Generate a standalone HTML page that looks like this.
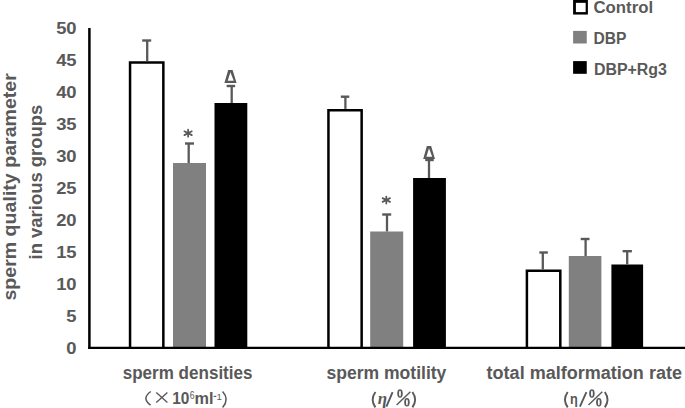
<!DOCTYPE html>
<html><head><meta charset="utf-8"><style>
html,body{margin:0;padding:0;background:#fff;width:685px;height:408px;overflow:hidden}
svg{display:block}
</style></head><body>
<svg width="685" height="408" viewBox="0 0 685 408">
<rect width="685" height="408" fill="#fff"/>
<path d="M130.05,348.00 V62.40 H163.35 V348.00" fill="#fff" stroke="#000" stroke-width="2.5" stroke-linejoin="miter"/>
<rect x="173.00" y="163.00" width="33.00" height="185.00" fill="#808080"/>
<rect x="214.50" y="103.00" width="32.80" height="245.00" fill="#000"/>
<path d="M328.45,348.00 V110.20 H361.65 V348.00" fill="#fff" stroke="#000" stroke-width="2.5" stroke-linejoin="miter"/>
<rect x="370.20" y="231.50" width="33.00" height="116.50" fill="#808080"/>
<rect x="413.10" y="178.00" width="32.80" height="170.00" fill="#000"/>
<path d="M526.90,348.00 V270.80 H560.30 V348.00" fill="#fff" stroke="#000" stroke-width="2.5" stroke-linejoin="miter"/>
<rect x="568.80" y="256.00" width="32.60" height="92.00" fill="#808080"/>
<rect x="611.40" y="264.50" width="31.70" height="83.50" fill="#000"/>
<line x1="147.20" y1="61.15" x2="147.20" y2="40.50" stroke="#595959" stroke-width="2.3"/>
<line x1="142.20" y1="40.50" x2="151.20" y2="40.50" stroke="#595959" stroke-width="2.4"/>
<line x1="188.70" y1="163.00" x2="188.70" y2="143.50" stroke="#595959" stroke-width="2.3"/>
<line x1="185.00" y1="143.50" x2="194.00" y2="143.50" stroke="#595959" stroke-width="2.4"/>
<line x1="231.70" y1="103.00" x2="231.70" y2="86.00" stroke="#595959" stroke-width="2.3"/>
<line x1="226.65" y1="86.00" x2="235.15" y2="86.00" stroke="#595959" stroke-width="2.4"/>
<line x1="345.40" y1="108.95" x2="345.40" y2="96.70" stroke="#595959" stroke-width="2.3"/>
<line x1="340.80" y1="96.70" x2="349.30" y2="96.70" stroke="#595959" stroke-width="2.4"/>
<line x1="387.00" y1="231.50" x2="387.00" y2="214.50" stroke="#595959" stroke-width="2.3"/>
<line x1="382.20" y1="214.50" x2="391.20" y2="214.50" stroke="#595959" stroke-width="2.4"/>
<line x1="429.00" y1="178.00" x2="429.00" y2="160.00" stroke="#595959" stroke-width="2.3"/>
<line x1="425.25" y1="160.00" x2="433.75" y2="160.00" stroke="#595959" stroke-width="2.4"/>
<line x1="542.80" y1="269.55" x2="542.80" y2="252.50" stroke="#595959" stroke-width="2.3"/>
<line x1="539.35" y1="252.50" x2="547.85" y2="252.50" stroke="#595959" stroke-width="2.4"/>
<line x1="585.60" y1="256.00" x2="585.60" y2="239.00" stroke="#595959" stroke-width="2.3"/>
<line x1="580.70" y1="239.00" x2="589.50" y2="239.00" stroke="#595959" stroke-width="2.4"/>
<line x1="627.20" y1="264.50" x2="627.20" y2="251.20" stroke="#595959" stroke-width="2.3"/>
<line x1="622.60" y1="251.20" x2="631.90" y2="251.20" stroke="#595959" stroke-width="2.4"/>
<line x1="89.4" y1="28" x2="89.4" y2="349.1" stroke="#000" stroke-width="2.5"/>
<line x1="88.2" y1="347.9" x2="685" y2="347.9" stroke="#000" stroke-width="2.3"/>
<g stroke="#595959" stroke-width="1.75" stroke-linecap="round"><line x1="188.10" y1="129.70" x2="188.10" y2="136.70"/><line x1="184.40" y1="131.30" x2="191.80" y2="135.10"/><line x1="184.40" y1="135.10" x2="191.80" y2="131.30"/></g>
<g stroke="#595959" stroke-width="1.75" stroke-linecap="round"><line x1="386.30" y1="196.50" x2="386.30" y2="203.50"/><line x1="382.60" y1="198.10" x2="390.00" y2="201.90"/><line x1="382.60" y1="201.90" x2="390.00" y2="198.10"/></g>
<path d="M228.20,70.00 L232.60,70.00 L236.60,83.00 L224.40,83.00 Z M230.40,72.20 L233.70,80.80 L227.70,80.80 Z" fill="#595959" fill-rule="evenodd"/>
<path d="M426.88,146.10 L431.13,146.10 L435.00,158.90 L423.20,158.90 Z M429.00,148.30 L432.20,156.70 L426.39,156.70 Z" fill="#595959" fill-rule="evenodd"/>
<g font-family="Liberation Sans" font-weight="bold" font-size="16" fill="#595959"><text transform="translate(76.6,353.80) scale(1.15,1)" text-anchor="end">0</text><text transform="translate(76.6,321.80) scale(1.15,1)" text-anchor="end">5</text><text transform="translate(76.6,289.80) scale(1.15,1)" text-anchor="end">10</text><text transform="translate(76.6,257.80) scale(1.15,1)" text-anchor="end">15</text><text transform="translate(76.6,225.80) scale(1.15,1)" text-anchor="end">20</text><text transform="translate(76.6,193.80) scale(1.15,1)" text-anchor="end">25</text><text transform="translate(76.6,161.80) scale(1.15,1)" text-anchor="end">30</text><text transform="translate(76.6,129.80) scale(1.15,1)" text-anchor="end">35</text><text transform="translate(76.6,97.80) scale(1.15,1)" text-anchor="end">40</text><text transform="translate(76.6,65.80) scale(1.15,1)" text-anchor="end">45</text><text transform="translate(76.6,33.80) scale(1.15,1)" text-anchor="end">50</text></g>
<rect x="573.1" y="-1" width="14.8" height="15.55" fill="#000"/><rect x="575.9" y="2.85" width="9.75" height="9.25" fill="#fff"/>
<rect x="573.1" y="30.9" width="13.65" height="12.6" fill="#808080"/>
<rect x="573.1" y="61.1" width="13.65" height="12.7" fill="#000"/>
<g font-family="Liberation Sans" font-weight="bold" font-size="16" fill="#595959"><text x="593.5" y="13.2" textLength="59.6" lengthAdjust="spacingAndGlyphs">Control</text><text x="593.5" y="44.2" textLength="32.9" lengthAdjust="spacingAndGlyphs">DBP</text><text x="593.9" y="75" textLength="73" lengthAdjust="spacingAndGlyphs">DBP+Rg3</text></g>
<g font-family="Liberation Sans" font-weight="bold" font-size="17.5" fill="#595959"><text x="122.7" y="378.7" textLength="129.8" lengthAdjust="spacingAndGlyphs">sperm densities</text><text x="326.4" y="378.7" textLength="120" lengthAdjust="spacingAndGlyphs">sperm motility</text><text x="486.6" y="378.7" textLength="195.4" lengthAdjust="spacingAndGlyphs">total malformation rate</text></g>
<g font-family="Liberation Sans" font-weight="bold" fill="#595959"><path d="M150.8,391.5 Q141.1,398.3 150.6,405.2" fill="none" stroke="#595959" stroke-width="1.5"/><path d="M156.3,392.6 L167.4,402.4 M167.4,392.6 L156.3,402.4" fill="none" stroke="#595959" stroke-width="1.4"/><text x="172.2" y="404" font-size="16.2" textLength="17.2" lengthAdjust="spacingAndGlyphs">10</text><text x="189.7" y="399.3" font-size="10.5" font-weight="normal" textLength="4.8" lengthAdjust="spacingAndGlyphs">6</text><text x="194.6" y="404" font-size="16.2" textLength="19" lengthAdjust="spacingAndGlyphs">ml</text><line x1="213.6" y1="396.4" x2="216.3" y2="396.4" stroke="#595959" stroke-width="1.1"/><text x="216.6" y="399.5" font-size="9.8" font-weight="normal" textLength="5.4" lengthAdjust="spacingAndGlyphs">1</text><path d="M222.6,391.4 Q229.8,399.3 222.6,407.4" fill="none" stroke="#595959" stroke-width="1.5"/><path d="M375.40,392 Q370.00,399.6 375.40,407.4" fill="none" stroke="#595959" stroke-width="1.9"/><text x="377.8" y="404" font-size="17" font-weight="bold" font-style="italic" font-family="Liberation Serif">&#951;</text><path d="M392.6,392.2 L386.4,406.6" fill="none" stroke="#595959" stroke-width="1.9"/><g transform="translate(0.00,0)"><ellipse cx="400" cy="393.55" rx="2.75" ry="4.25" fill="#595959"/><ellipse cx="400" cy="393.55" rx="0.95" ry="3.0" fill="#fff"/><ellipse cx="406.95" cy="402.35" rx="2.75" ry="4.25" fill="#595959"/><ellipse cx="406.95" cy="402.35" rx="0.95" ry="3.0" fill="#fff"/><line x1="396.6" y1="405.0" x2="410.4" y2="391.7" stroke="#595959" stroke-width="1.4"/></g><path d="M412.40,392 Q417.80,399.6 412.40,407.4" fill="none" stroke="#595959" stroke-width="1.9"/><path d="M567.70,392 Q562.30,399.6 567.70,407.4" fill="none" stroke="#595959" stroke-width="1.9"/><text x="569.9" y="403.8" font-size="15.5" font-weight="bold" textLength="7.8" lengthAdjust="spacingAndGlyphs">&#951;</text><path d="M586.4,392.2 L579.9,406.6" fill="none" stroke="#595959" stroke-width="1.9"/><g transform="translate(191.90,0)"><ellipse cx="400" cy="393.55" rx="2.75" ry="4.25" fill="#595959"/><ellipse cx="400" cy="393.55" rx="0.95" ry="3.0" fill="#fff"/><ellipse cx="406.95" cy="402.35" rx="2.75" ry="4.25" fill="#595959"/><ellipse cx="406.95" cy="402.35" rx="0.95" ry="3.0" fill="#fff"/><line x1="396.6" y1="405.0" x2="410.4" y2="391.7" stroke="#595959" stroke-width="1.4"/></g><path d="M604.80,392 Q610.20,399.6 604.80,407.4" fill="none" stroke="#595959" stroke-width="1.9"/></g>
<g font-family="Liberation Sans" font-weight="bold" font-size="18.5" fill="#595959"><text transform="translate(15.7,300.6) rotate(-90)" textLength="227.5" lengthAdjust="spacingAndGlyphs">sperm quality parameter</text><text transform="translate(41.7,259.4) rotate(-90)" textLength="154.7" lengthAdjust="spacingAndGlyphs">in various groups</text></g>
</svg>
</body></html>
